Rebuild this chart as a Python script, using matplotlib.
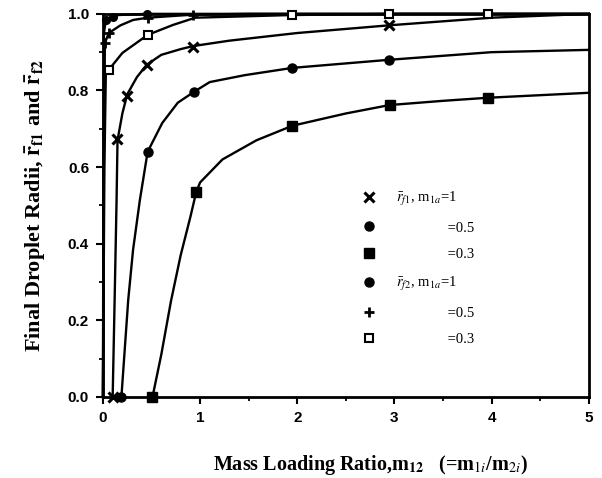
import matplotlib
matplotlib.use('Agg')
import matplotlib.pyplot as plt
from matplotlib.lines import Line2D

# curve points (x = m12, y = final radius)
f1_a1_x = [0.1, 0.12, 0.14, 0.15, 0.2, 0.25, 0.35, 0.45, 0.6, 0.8, 0.93, 1.3, 2.0, 2.94, 4.0, 5.0]
f1_a1_y = [0.0, 0.25, 0.51, 0.67, 0.74, 0.79, 0.835, 0.867, 0.893, 0.908, 0.916, 0.93, 0.95, 0.97, 0.99, 1.0]
f1_a1_mx = [0.1, 0.14, 0.25, 0.45, 0.93, 2.94]
f1_a1_my = [0.0, 0.674, 0.786, 0.867, 0.914, 0.97]

f1_a05_x = [0.19, 0.26, 0.31, 0.38, 0.46, 0.61, 0.77, 0.94, 1.1, 1.46, 1.95, 2.94, 4.0, 5.0]
f1_a05_y = [0.0, 0.253, 0.384, 0.514, 0.64, 0.715, 0.768, 0.797, 0.822, 0.84, 0.859, 0.88, 0.9, 0.906]
f1_a05_mx = [0.19, 0.46, 0.94, 1.95, 2.94]
f1_a05_my = [0.0, 0.64, 0.797, 0.859, 0.88]

f1_a03_x = [0.51, 0.6, 0.7, 0.8, 0.9, 0.96, 1.0, 1.23, 1.58, 1.95, 2.5, 2.95, 3.5, 3.96, 5.0]
f1_a03_y = [0.0, 0.11, 0.25, 0.37, 0.47, 0.535, 0.56, 0.62, 0.67, 0.708, 0.74, 0.762, 0.773, 0.781, 0.794]
f1_a03_mx = [0.51, 0.96, 1.95, 2.95, 3.96]
f1_a03_my = [0.0, 0.535, 0.708, 0.762, 0.781]

f2_a1_x = [0.0, 0.005, 0.01, 0.03, 0.1, 0.16, 0.45, 1.0, 5.0]
f2_a1_y = [0.0, 0.6, 0.95, 0.984, 0.992, 0.997, 1.0, 1.0, 1.0]
f2_a1_mx = [0.03, 0.1, 0.45]
f2_a1_my = [0.984, 0.992, 1.0]

f2_a05_x = [0.0, 0.01, 0.02, 0.06, 0.18, 0.31, 0.46, 0.93, 1.5, 5.0]
f2_a05_y = [0.0, 0.6, 0.924, 0.95, 0.97, 0.984, 0.99, 0.998, 1.0, 1.0]
f2_a05_mx = [0.02, 0.06, 0.46, 0.93]
f2_a05_my = [0.924, 0.95, 0.99, 0.998]

f2_a03_x = [0.0, 0.015, 0.03, 0.06, 0.2, 0.46, 0.72, 0.95, 1.95, 3.0, 5.0]
f2_a03_y = [0.0, 0.6, 0.849, 0.854, 0.898, 0.945, 0.971, 0.99, 0.997, 1.0, 1.0]
f2_a03_mx = [0.06, 0.46, 1.95, 2.94, 3.96]
f2_a03_my = [0.854, 0.945, 0.997, 1.0, 1.0]

x_ticks = [0, 1, 2, 3, 4, 5]
y_ticks = [0.0, 0.2, 0.4, 0.6, 0.8, 1.0]

plt.rcParams['mathtext.fontset'] = 'stix'
plt.rcParams['font.family'] = ['Liberation Serif', 'DejaVu Serif']

fig = plt.figure(figsize=(6.02, 4.78), dpi=100)
ax = fig.add_axes([0.171, 0.1695, 0.807, 0.8015])

lw = 1.7
curves = [
    (f1_a1_x, f1_a1_y, f1_a1_mx, f1_a1_my, dict(marker='x', ms=7, mew=2.2, mfc='k')),
    (f1_a05_x, f1_a05_y, f1_a05_mx, f1_a05_my, dict(marker='o', ms=6.5, mfc='k')),
    (f1_a03_x, f1_a03_y, f1_a03_mx, f1_a03_my, dict(marker='s', ms=6.5, mfc='k')),
    (f2_a1_x, f2_a1_y, f2_a1_mx, f2_a1_my, dict(marker='o', ms=5.5, mfc='k')),
    (f2_a05_x, f2_a05_y, f2_a05_mx, f2_a05_my, dict(marker='+', ms=7, mew=2.0)),
    (f2_a03_x, f2_a03_y, f2_a03_mx, f2_a03_my, dict(marker='s', ms=5.5, mfc='white', mew=1.5)),
]
for cx, cy, mx, my, mk in curves:
    ax.plot(cx, cy, color='k', lw=lw, clip_on=False, zorder=3)
    ax.plot(mx, my, ls='none', color='k', clip_on=False, zorder=4, **mk)

ax.set_xlim(0, 5)
ax.set_ylim(0, 1.0)
ax.set_xticks(x_ticks)
ax.set_yticks(y_ticks)
ax.set_xticks([0.5, 1.5, 2.5, 3.5, 4.5], minor=True)
ax.set_yticks([0.1, 0.3, 0.5, 0.7, 0.9], minor=True)
ax.set_xticklabels([str(t) for t in x_ticks], family='Liberation Sans', fontweight='bold', fontsize=11)
ax.set_yticklabels(['%.1f' % t for t in y_ticks], family='Liberation Sans', fontweight='bold', fontsize=11)
ax.tick_params(which='major', direction='out', length=5, width=1.5, pad=5)
ax.tick_params(which='minor', direction='out', length=3, width=1.3)
for s in ax.spines.values():
    s.set_linewidth(2.0)

ax.set_xlabel(r'Mass Loading Ratio,m$_{\mathbf{12}}$   (=m$_{1i}$/m$_{2i}$)',
              fontsize=14.5, fontweight='bold', labelpad=20)
ax.xaxis.label.set_x(0.55)
ax.set_ylabel(r'Final Droplet Radii, $\mathbf{\bar{r}_{f1}}$ and $\mathbf{\bar{r}_{f2}}$',
              fontsize=16, fontweight='bold', labelpad=14)
ax.yaxis.label.set_y(0.5)

# legend
handles = [
    Line2D([], [], ls='none', color='k', marker='x', ms=7, mew=2.2),
    Line2D([], [], ls='none', color='k', marker='o', ms=6.5),
    Line2D([], [], ls='none', color='k', marker='s', ms=6.5),
    Line2D([], [], ls='none', color='k', marker='o', ms=6.5),
    Line2D([], [], ls='none', color='k', marker='+', ms=7, mew=2.0),
    Line2D([], [], ls='none', color='k', marker='s', ms=5.5, mfc='white', mew=1.5),
]
pad = '\u2002' * 7
labels = [r'$\bar{r}_{f1}$, m$_{1a}$=1', pad + '=0.5', pad + '=0.3',
          r'$\bar{r}_{f2}$, m$_{1a}$=1', pad + '=0.5', pad + '=0.3']
ax.legend(handles, labels, loc='upper left', bbox_to_anchor=(0.505, 0.575),
          frameon=False, fontsize=10.5, handletextpad=1.4, labelspacing=0.93,
          handlelength=1.0)

fig.savefig('out.png', dpi=100)
